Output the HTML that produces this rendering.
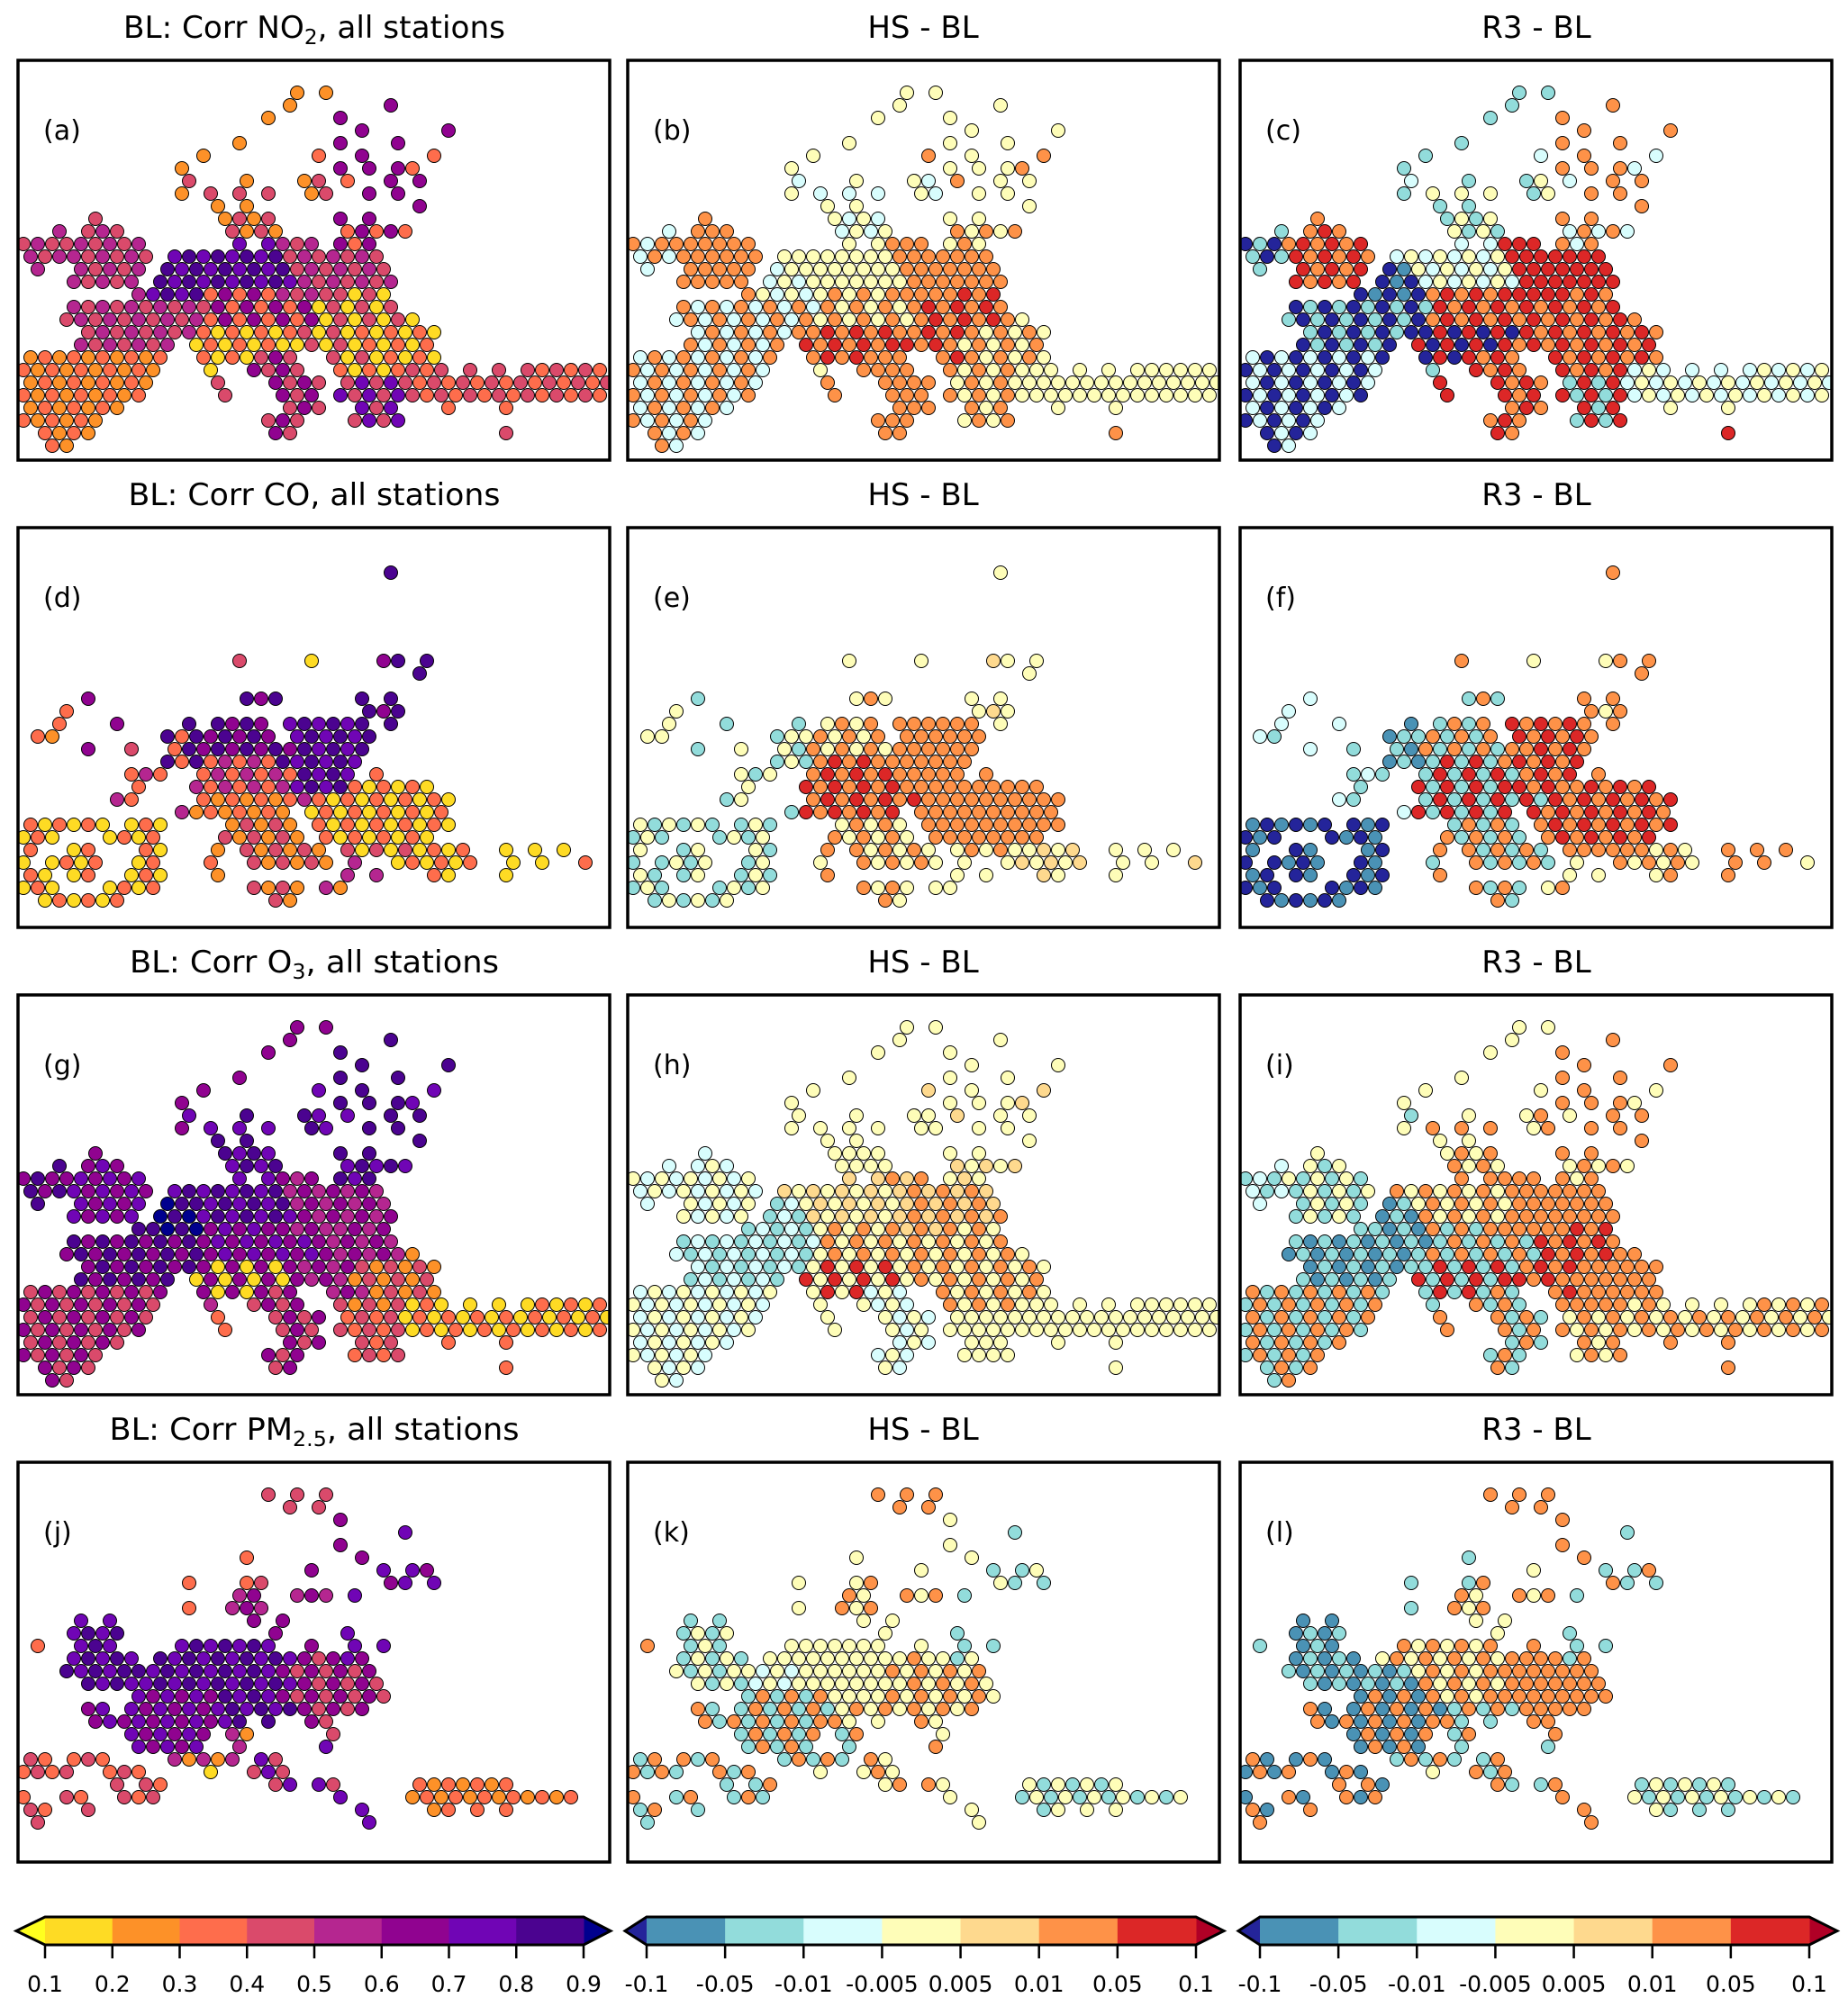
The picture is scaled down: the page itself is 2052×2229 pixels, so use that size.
<!DOCTYPE html>
<html><head><meta charset="utf-8"><style>
html,body{margin:0;padding:0;background:#fff}
svg{display:block}
text{font-family:"DejaVu Sans","Liberation Sans",sans-serif;fill:#000}
</style></head><body>
<svg id="fig" width="2052" height="2229" viewBox="0 0 2052 2229" xmlns="http://www.w3.org/2000/svg">
<rect width="2052" height="2229" fill="#fff"/>
<g id="titles">
<text x="349" y="42" font-size="34" text-anchor="middle" textLength="424" lengthAdjust="spacingAndGlyphs">BL: Corr NO<tspan font-size="23" dy="7">2</tspan><tspan dy="-7">, all stations</tspan></text>
<text x="1025" y="42" font-size="34" text-anchor="middle">HS - BL</text>
<text x="1706" y="42" font-size="34" text-anchor="middle">R3 - BL</text>
<text x="349" y="561" font-size="34" text-anchor="middle" textLength="413" lengthAdjust="spacingAndGlyphs">BL: Corr CO, all stations</text>
<text x="1025" y="561" font-size="34" text-anchor="middle">HS - BL</text>
<text x="1706" y="561" font-size="34" text-anchor="middle">R3 - BL</text>
<text x="349" y="1080" font-size="34" text-anchor="middle" textLength="410" lengthAdjust="spacingAndGlyphs">BL: Corr O<tspan font-size="23" dy="7">3</tspan><tspan dy="-7">, all stations</tspan></text>
<text x="1025" y="1080" font-size="34" text-anchor="middle">HS - BL</text>
<text x="1706" y="1080" font-size="34" text-anchor="middle">R3 - BL</text>
<text x="349" y="1599" font-size="34" text-anchor="middle" textLength="455" lengthAdjust="spacingAndGlyphs">BL: Corr PM<tspan font-size="23" dy="7">2.5</tspan><tspan dy="-7">, all stations</tspan></text>
<text x="1025" y="1599" font-size="34" text-anchor="middle">HS - BL</text>
<text x="1706" y="1599" font-size="34" text-anchor="middle">R3 - BL</text>
</g>
<g id="panels"></g>
<g id="cbars"></g>
</svg>
<script>
// ---- station layouts (grid row, "col-col Region" tokens) ----
const stationsNO2 = [
[2,"19N 21N"],[3,"18N 25F"],[4,"17N 22F"],[5,"23F 29F"],[6,"15N 22F 26F"],[7,"12N 20F 23F 28F"],
[8,"11N 22F 24F 26F 27F"],[9,"11N 15S 19S 20S 22F 25F 27F"],[10,"11N 13S 15S 17S 20S 21S 24F 26F"],
[11,"13S 15S 27F"],[12,"5U 14-17S 22F 24F"],[13,"2I 4-6U 14-17S 22-26F"],[14,"0-2I 3-8U 15G 17G 18-20P 22-24F"],
[15,"0-2I 3-8U 10-17G 18-24P"],[16,"1I 4-8U 10-11B 12-18G 19-25P"],[17,"3-7U 9-11B 12-18G 19-25P"],
[18,"8R 9-12B 13-17C 18-21P 22-25H"],[19,"3-12R 13-19C 20-25H"],[20,"3-12R 13-20C 21-26H 27O"],
[21,"4-11R 12-18T 19-22H 23-28O"],[22,"4-10R 12-18T 19-22H 23-28O"],[23,"0-9E 12-15T 16-18Y 21-23H 24-28O"],
[24,"0-9E 13X 16-19Y 22-26O 27-29K 31K 33K 35-40K"],[25,"0-8E 13X 17-20Y 22-25Q 26-40K"],
[26,"0-8E 14X 18-20Y 22-26Q 27-40K"],[27,"0-6E 18-20Y 23-25Q 29K 33K"],[28,"0-5E 17-19Y 23-26Q"],
[29,"1-4E 17-18Y 33X"],[30,"2-3E"]];
const stationsCO = [
[3,"25F"],[10,"15N 20S 25-26F 28F"],[11,"27F"],[13,"4U 15-17G 23F 25F"],[14,"3I 24-26F"],
[15,"2I 6U 11B 13-16G 18-23P 25F"],[16,"1-2I 10-11B 12-17G 19-24P"],[17,"4U 7U 10-11B 12-18G 19-23P"],
[18,"10-12B 13-17C 18-23P"],[19,"7-9R 12-18C 19-22P 24H"],[20,"8R 12-18C 19-22P 23-28H"],
[21,"6-7R 12-18T 19-20C 21-29H"],[22,"11R 12-18T 20-29H"],[23,"0-5E 7-9E 14-18Y 20-29H"],
[24,"0-2E 6-9E 14-19Y 21-28H"],[25,"0E 3-4E 8-9E 13X 15-20Y 22-26O 27-30K 33K 35K 37K"],
[26,"0E 2-5E 8-9E 13X 16-21Y 23Q 26-31K 34K 36K 39K"],[27,"0-1E 3-4E 7-9E 13X 22Q 24Q 28-29K 33K"],
[28,"0-2E 6-9E 16-19Y 21-22Q"],[29,"1-6E 17-18Y"]];
const stationsPM = [
[2,"17N 19N 21N"],[3,"18N 20N"],[4,"22F"],[5,"26F"],[6,"22F"],[7,"15N 23F"],[8,"20S 25F 27F 28F"],
[9,"11N 15-16N 25-26F 28F"],[10,"15-16S 19-21S 23F"],[11,"11N 14-16S"],[12,"4U 6U 16S 18S"],
[13,"3-6U 17S 22F"],[14,"1I 4-6U 11-17G 20F 23F 25F"],[15,"3-7U 9-18G 19-20P 21-23F"],
[16,"3-7U 8-11B 12-17G 18-24P"],[17,"4-7U 8-11B 12-18G 19-24P"],[18,"8-13R 14-17G 18-25P"],
[19,"4-5R 7-13R 14-18C 19-23P"],[20,"5-13R 14-15C 17C 20-21P"],[21,"7-12R 14-15T 21Y"],
[22,"8-12R 15T 21Y"],[23,"0-1E 3-5E 10-14T 16-17Y"],[24,"0-3E 6-8E 13X 16-18Y"],
[25,"6E 8-9E 17-18Y 20-21Y 27-33K"],[26,"0E 3-4E 7-9E 22Q 27-38K"],[27,"0-1E 4E 23Q 28-29K 31K 33K"],[28,"1E 24Q"]];

// ---- binned values per region (two alternating values per region) ----
const valsA = {N:[4,2],S:[2,4],F:[6,3],U:[5,4],I:[4,5],B:[8,7],G:[8,7],C:[6,3],P:[5,4],R:[5,4],E:[3,2],T:[1,3],Y:[6,4],H:[4,1],O:[3,1],K:[3,4],Q:[7,4],X:[4,1]};
const valsB = {N:[3,4],S:[4,3],F:[4,6],U:[6,6],I:[6,3],B:[3,4],G:[4,4],C:[6,4],P:[6,6],R:[6,3],E:[6,3],T:[7,6],Y:[6,6],H:[6,7],O:[6,4],K:[4,4],Q:[6,4],X:[6,4]};
const valsC = {N:[3,2],S:[2,4],F:[6,3],U:[7,6],I:[0,2],B:[0,1],G:[4,3],C:[7,6],P:[7,7],R:[0,2],E:[0,3],T:[7,0],Y:[7,6],H:[7,6],O:[7,6],K:[4,3],Q:[7,2],X:[7,2]};
const valsD = {N:[4,4],S:[1,1],F:[8,6],U:[4,6],I:[2,3],B:[8,3],G:[8,6],C:[5,3],P:[8,7],R:[3,5],E:[1,3],T:[2,3],Y:[4,2],H:[1,3],O:[1,4],K:[1,3],Q:[2,5],X:[2,3]};
const valsE = {N:[4,4],S:[4,4],F:[4,5],U:[4,2],I:[4,4],B:[2,4],G:[4,6],C:[7,6],P:[6,6],R:[4,2],E:[2,4],T:[7,6],Y:[6,4],H:[6,6],O:[6,4],K:[4,5],Q:[4,4],X:[6,4]};
const valsF = {N:[6,6],S:[4,4],F:[6,4],U:[2,3],I:[2,3],B:[1,2],G:[2,6],C:[7,2],P:[6,7],R:[2,3],E:[0,1],T:[7,2],Y:[6,2],H:[7,6],O:[6,6],K:[6,4],Q:[6,4],X:[6,2]};
const valsG = {N:[7,6],S:[8,7],F:[8,7],U:[7,6],I:[6,8],B:[9,8],G:[8,7],C:[7,6],P:[6,5],R:[8,6],E:[6,4],T:[1,6],Y:[4,6],H:[5,6],O:[4,2],K:[3,1],Q:[4,3],X:[3,5]};
const valsH = {N:[4,4],S:[4,4],F:[4,5],U:[4,3],I:[4,3],B:[2,3],G:[4,5],C:[6,4],P:[6,5],R:[2,3],E:[4,3],T:[7,4],Y:[4,3],H:[6,4],O:[6,4],K:[4,4],Q:[4,4],X:[4,4]};
const valsI = {N:[2,4],S:[4,6],F:[6,4],U:[2,4],I:[2,3],B:[1,2],G:[4,6],C:[2,6],P:[6,6],R:[2,1],E:[2,6],T:[7,2],Y:[6,2],H:[6,7],O:[6,6],K:[6,4],Q:[6,4],X:[6,2]};
const valsJ = {N:[3,4],S:[6,5],F:[6,7],U:[7,8],I:[2,3],B:[8,7],G:[8,7],P:[6,4],C:[7,8],R:[7,6],E:[3,4],T:[2,5],Y:[4,7],X:[1,1],Q:[7,3],K:[3,2]};
const valsK = {N:[4,6],S:[4,6],F:[4,2],U:[2,4],I:[4,6],B:[4,3],G:[4,4],P:[6,4],C:[6,4],R:[2,6],E:[6,2],T:[6,2],Y:[4,6],X:[4,4],Q:[4,2],K:[4,2]};
const valsL = {N:[2,6],S:[4,6],F:[6,2],U:[1,2],I:[6,2],B:[1,2],G:[4,6],P:[6,6],C:[6,2],R:[1,6],E:[1,6],T:[6,2],Y:[6,2],X:[6,4],Q:[6,2],K:[2,4]};

const colorsSeq = ['#ffff1f','#fedb24','#fd9128','#fe6d4c','#da4a6b','#b52690','#900390','#7005b5','#4b0390','#01008e'];
const colorsDiv = ['#24249a','#4a92b5','#92dcdb','#d8fdfd','#fefdb8','#fed98e','#fe9248','#dc2727','#b00026'];
const seqTicks = ['0.1','0.2','0.3','0.4','0.5','0.6','0.7','0.8','0.9'];
const divTicks = ['-0.1','-0.05','-0.01','-0.005','0.005','0.01','0.05','0.1'];
const panelLetters = ['a','b','c','d','e','f','g','h','i','j','k','l'];

const NS='http://www.w3.org/2000/svg';
const PX=[20,697,1377], PY=[67,586,1105,1624], PW=657, PH=444;
function mapX(c,r){return 6 + c*16 + (r%2?8:0);}
function mapY(r){return 8 + r*14;}
function parse(rows){
  const out=[];
  rows.forEach(([r,s])=>{
    s.split(' ').forEach(t=>{
      const m=t.match(/^(\d+)(?:-(\d+))?([A-Z])$/); if(!m) return;
      const a=+m[1], b=m[2]?+m[2]:a;
      for(let c=a;c<=b;c++) out.push({c:c,r:r,g:m[3]});
    });
  });
  return out;
}
const layouts=[parse(stationsNO2),parse(stationsCO),parse(stationsNO2),parse(stationsPM)];
const vals=[[valsA,valsB,valsC],[valsD,valsE,valsF],[valsG,valsH,valsI],[valsJ,valsK,valsL]];
const panelsG=document.getElementById('panels');
for(let row=0;row<4;row++){
  for(let col=0;col<3;col++){
    const g=document.createElementNS(NS,'g');
    
    
    g.setAttribute('transform','translate('+PX[col]+','+PY[row]+')');
    const cp=document.createElementNS(NS,'clipPath');
    cp.setAttribute('id','cp'+row+col);
    const cr=document.createElementNS(NS,'rect');
    cr.setAttribute('width',PW);cr.setAttribute('height',PH);
    cp.appendChild(cr);g.appendChild(cp);
    const dots=document.createElementNS(NS,'g');
    dots.setAttribute('clip-path','url(#cp'+row+col+')');
    
    
    const pal = col===0?colorsSeq:colorsDiv;
    const v = vals[row][col];
    layouts[row].forEach(s=>{
      const pair=v[s.g]||[4,4];
      const bin=((s.c+s.r)%2)?pair[1]:pair[0];
      const ci=document.createElementNS(NS,'circle');
      
      
      ci.setAttribute('cx',mapX(s.c,s.r));ci.setAttribute('cy',mapY(s.r));
      ci.setAttribute('r',7.5);ci.setAttribute('fill',pal[bin]);
      ci.setAttribute('stroke','#000');ci.setAttribute('stroke-width','1');
      dots.appendChild(ci);
    });
    g.appendChild(dots);
    const fr=document.createElementNS(NS,'rect');
    
    
    fr.setAttribute('width',PW);fr.setAttribute('height',PH);
    fr.setAttribute('fill','none');fr.setAttribute('stroke','#000');fr.setAttribute('stroke-width','3.5');
    g.appendChild(fr);
    const lb=document.createElementNS(NS,'text');
    
    
    lb.setAttribute('x',28);lb.setAttribute('y',88);lb.setAttribute('font-size','30');
    lb.textContent='('+panelLetters[row*3+col]+')';
    g.appendChild(lb);
    panelsG.appendChild(g);
  }
}
// ---- colorbars ----
const cbG=document.getElementById('cbars');
const cbDefs=[
 {x0:50,x1:648,tl:18,tr:678,cols:colorsSeq,ticks:seqTicks},
 {x0:718,x1:1328,tl:694,tr:1359,cols:colorsDiv,ticks:divTicks},
 {x0:1399,x1:2009,tl:1375,tr:2040,cols:colorsDiv,ticks:divTicks}];
const y0=2129,y1=2160,ym=(y0+y1)/2;
cbDefs.forEach((d,k)=>{
  const g=document.createElementNS(NS,'g');
  
  
  const n=d.cols.length-2, w=(d.x1-d.x0)/n;
  const tl=document.createElementNS(NS,'polygon');
  tl.setAttribute('points',d.x0+','+y0+' '+d.tl+','+ym+' '+d.x0+','+y1);
  tl.setAttribute('fill',d.cols[0]);g.appendChild(tl);
  const tr=document.createElementNS(NS,'polygon');
  tr.setAttribute('points',d.x1+','+y0+' '+d.tr+','+ym+' '+d.x1+','+y1);
  tr.setAttribute('fill',d.cols[d.cols.length-1]);g.appendChild(tr);
  for(let i=0;i<n;i++){
    const r=document.createElementNS(NS,'rect');
    r.setAttribute('x',d.x0+i*w);r.setAttribute('y',y0);r.setAttribute('width',w+0.5);r.setAttribute('height',y1-y0);
    r.setAttribute('fill',d.cols[i+1]);g.appendChild(r);
  }
  const ol=document.createElementNS(NS,'polygon');
  ol.setAttribute('points',d.x0+','+y0+' '+d.x1+','+y0+' '+d.tr+','+ym+' '+d.x1+','+y1+' '+d.x0+','+y1+' '+d.tl+','+ym);
  ol.setAttribute('fill','none');ol.setAttribute('stroke','#000');ol.setAttribute('stroke-width','3');
  g.appendChild(ol);
  d.ticks.forEach((t,i)=>{
    const x=d.x0+i*w;
    const ln=document.createElementNS(NS,'line');
    ln.setAttribute('x1',x);ln.setAttribute('x2',x);ln.setAttribute('y1',y1);ln.setAttribute('y2',2175);
    ln.setAttribute('stroke','#000');ln.setAttribute('stroke-width','2.5');g.appendChild(ln);
    const tx=document.createElementNS(NS,'text');
    
    
    tx.setAttribute('x',x);tx.setAttribute('y',2212);tx.setAttribute('font-size','25');
    tx.setAttribute('text-anchor','middle');tx.textContent=t;g.appendChild(tx);
  });
  cbG.appendChild(g);
});
</script>
</body></html>
